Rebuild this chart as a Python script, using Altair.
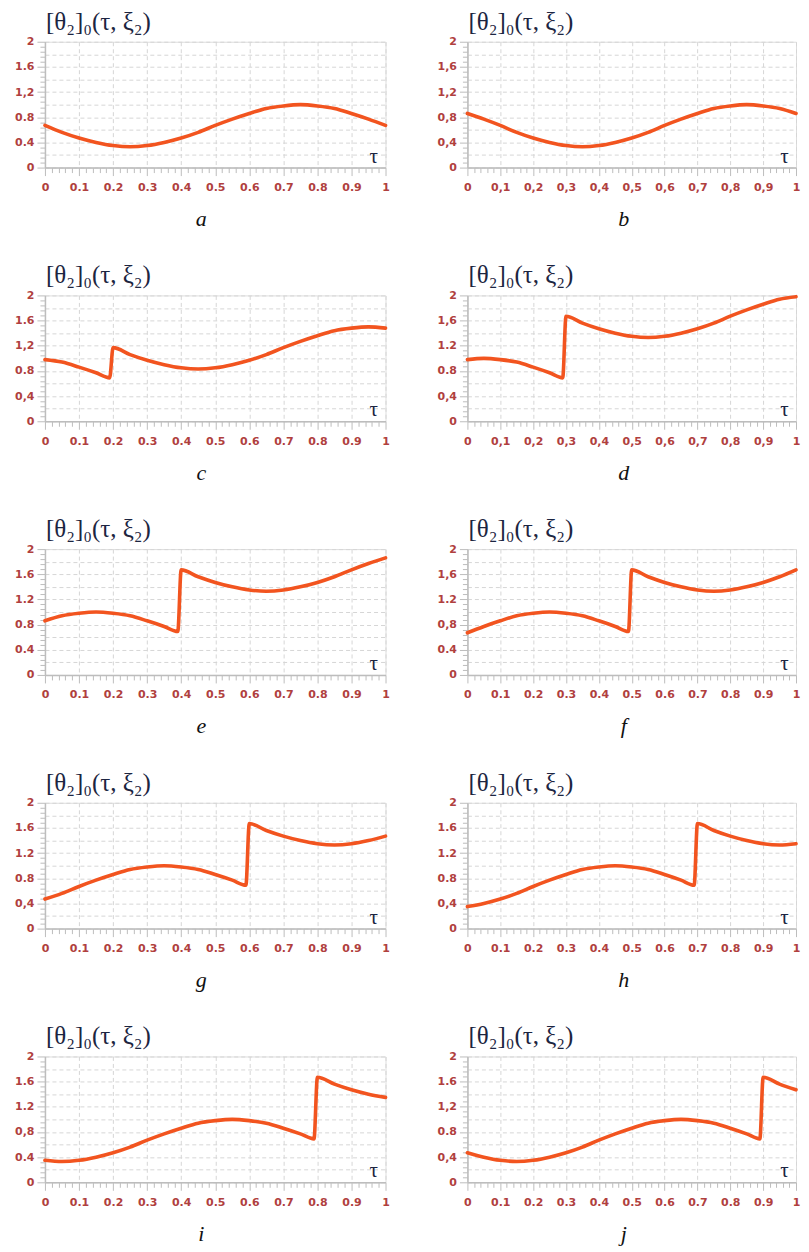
import altair as alt
import pandas as pd

# ---------------- data ----------------
PANEL_KEYS = ["a", "b", "c", "d", "e", "f", "g", "h", "i", "j"]

A_TAU = [0, 0.05, 0.1, 0.15, 0.2, 0.25, 0.3, 0.35, 0.4, 0.45, 0.5, 0.55, 0.6, 0.65, 0.7, 0.75, 0.8, 0.85, 0.9, 0.95, 1.0]
A_THETA = [0.67, 0.56, 0.47, 0.40, 0.35, 0.33, 0.35, 0.40, 0.47, 0.56, 0.67, 0.77, 0.86, 0.94, 0.98, 1.00, 0.98, 0.94, 0.86, 0.77, 0.67]

B_TAU = [0, 0.05, 0.1, 0.15, 0.2, 0.25, 0.3, 0.35, 0.4, 0.45, 0.5, 0.55, 0.6, 0.65, 0.7, 0.75, 0.8, 0.85, 0.9, 0.95, 1.0]
B_THETA = [0.86, 0.77, 0.67, 0.56, 0.47, 0.40, 0.35, 0.33, 0.35, 0.40, 0.47, 0.56, 0.67, 0.77, 0.86, 0.94, 0.98, 1.00, 0.98, 0.94, 0.86]

C_TAU = [0, 0.05, 0.1, 0.15, 0.19, 0.2, 0.25, 0.3, 0.35, 0.4, 0.45, 0.5, 0.55, 0.6, 0.65, 0.7, 0.75, 0.8, 0.85, 0.9, 0.95, 1.0]
C_THETA = [0.98, 0.94, 0.86, 0.77, 0.69, 1.17, 1.06, 0.97, 0.90, 0.85, 0.83, 0.85, 0.90, 0.97, 1.06, 1.17, 1.27, 1.36, 1.44, 1.48, 1.50, 1.48]

D_TAU = [0, 0.05, 0.1, 0.15, 0.2, 0.25, 0.29, 0.3, 0.35, 0.4, 0.45, 0.5, 0.55, 0.6, 0.65, 0.7, 0.75, 0.8, 0.85, 0.9, 0.95, 1.0]
D_THETA = [0.98, 1.00, 0.98, 0.94, 0.86, 0.77, 0.69, 1.67, 1.56, 1.47, 1.40, 1.35, 1.33, 1.35, 1.40, 1.47, 1.56, 1.67, 1.77, 1.86, 1.94, 1.98]

E_TAU = [0, 0.05, 0.1, 0.15, 0.2, 0.25, 0.3, 0.35, 0.39, 0.4, 0.45, 0.5, 0.55, 0.6, 0.65, 0.7, 0.75, 0.8, 0.85, 0.9, 0.95, 1.0]
E_THETA = [0.86, 0.94, 0.98, 1.00, 0.98, 0.94, 0.86, 0.77, 0.69, 1.67, 1.56, 1.47, 1.40, 1.35, 1.33, 1.35, 1.40, 1.47, 1.56, 1.67, 1.77, 1.86]

F_TAU = [0, 0.05, 0.1, 0.15, 0.2, 0.25, 0.3, 0.35, 0.4, 0.45, 0.49, 0.5, 0.55, 0.6, 0.65, 0.7, 0.75, 0.8, 0.85, 0.9, 0.95, 1.0]
F_THETA = [0.67, 0.77, 0.86, 0.94, 0.98, 1.00, 0.98, 0.94, 0.86, 0.77, 0.69, 1.67, 1.56, 1.47, 1.40, 1.35, 1.33, 1.35, 1.40, 1.47, 1.56, 1.67]

G_TAU = [0, 0.05, 0.1, 0.15, 0.2, 0.25, 0.3, 0.35, 0.4, 0.45, 0.5, 0.55, 0.59, 0.6, 0.65, 0.7, 0.75, 0.8, 0.85, 0.9, 0.95, 1.0]
G_THETA = [0.47, 0.56, 0.67, 0.77, 0.86, 0.94, 0.98, 1.00, 0.98, 0.94, 0.86, 0.77, 0.69, 1.67, 1.56, 1.47, 1.40, 1.35, 1.33, 1.35, 1.40, 1.47]

H_TAU = [0, 0.05, 0.1, 0.15, 0.2, 0.25, 0.3, 0.35, 0.4, 0.45, 0.5, 0.55, 0.6, 0.65, 0.69, 0.7, 0.75, 0.8, 0.85, 0.9, 0.95, 1.0]
H_THETA = [0.35, 0.40, 0.47, 0.56, 0.67, 0.77, 0.86, 0.94, 0.98, 1.00, 0.98, 0.94, 0.86, 0.77, 0.69, 1.67, 1.56, 1.47, 1.40, 1.35, 1.33, 1.35]

I_TAU = [0, 0.05, 0.1, 0.15, 0.2, 0.25, 0.3, 0.35, 0.4, 0.45, 0.5, 0.55, 0.6, 0.65, 0.7, 0.75, 0.79, 0.8, 0.85, 0.9, 0.95, 1.0]
I_THETA = [0.35, 0.33, 0.35, 0.40, 0.47, 0.56, 0.67, 0.77, 0.86, 0.94, 0.98, 1.00, 0.98, 0.94, 0.86, 0.77, 0.69, 1.67, 1.56, 1.47, 1.40, 1.35]

J_TAU = [0, 0.05, 0.1, 0.15, 0.2, 0.25, 0.3, 0.35, 0.4, 0.45, 0.5, 0.55, 0.6, 0.65, 0.7, 0.75, 0.8, 0.85, 0.89, 0.9, 0.95, 1.0]
J_THETA = [0.47, 0.40, 0.35, 0.33, 0.35, 0.40, 0.47, 0.56, 0.67, 0.77, 0.86, 0.94, 0.98, 1.00, 0.98, 0.94, 0.86, 0.77, 0.69, 1.67, 1.56, 1.47]

SERIES = {
    "a": (A_TAU, A_THETA), "b": (B_TAU, B_THETA), "c": (C_TAU, C_THETA),
    "d": (D_TAU, D_THETA), "e": (E_TAU, E_THETA), "f": (F_TAU, F_THETA),
    "g": (G_TAU, G_THETA), "h": (H_TAU, H_THETA), "i": (I_TAU, I_THETA),
    "j": (J_TAU, J_THETA),
}

# tick labels (as printed, with their mixed decimal separators)
Y_LABELS = {
    "a": ["0", "0.4", "0.8", "1,2", "1.6", "2"],
    "b": ["0", "0,4", "0,8", "1,2", "1,6", "2"],
    "c": ["0", "0,4", "0.8", "1,2", "1.6", "2"],
    "d": ["0", "0,4", "0.8", "1.2", "1,6", "2"],
    "e": ["0", "0.4", "0.8", "1.2", "1.6", "2"],
    "f": ["0", "0.4", "0,8", "1.2", "1,6", "2"],
    "g": ["0", "0,4", "0.8", "1.2", "1.6", "2"],
    "h": ["0", "0,4", "0.8", "1.2", "1.6", "2"],
    "i": ["0", "0.4", "0,8", "1.2", "1.6", "2"],
    "j": ["0", "0,4", "0.8", "1,2", "1.6", "2"],
}
X_LABELS_DOT = ["0", "0.1", "0.2", "0.3", "0.4", "0.5", "0.6", "0.7", "0.8", "0.9", "1"]
X_LABELS_COMMA = ["0", "0,1", "0,2", "0,3", "0,4", "0,5", "0,6", "0,7", "0,8", "0,9", "1"]
X_LABEL_SET = {"b": X_LABELS_COMMA, "d": X_LABELS_COMMA}

TITLE_TEXT = "[θ₂]₀(τ, ξ₂)"
TAU_MARK = "τ"
TAU_POS = [0.965]
TAU_LEVEL = [0.08]

X_TICKS = [round(i * 0.02, 2) for i in range(51)]
Y_TICKS = [round(i * 0.04, 2) for i in range(51)]

# ---------------- styling ----------------
W_LEFT, W_RIGHT, H = 341, 329, 126
LINE_COLOR = "#f2541f"
LABEL_COLOR = "#b0403e"
TEXT_COLOR = "#1c2541"
GRID_COLOR = "#d6d6d6"
AXIS_COLOR = "#bdbdbd"


def js_array(items):
    return "[" + ",".join("'" + s + "'" for s in items) + "]"


def panel(key, width):
    taus, thetas = SERIES[key]
    df = pd.DataFrame({"tau": taus, "theta": thetas})
    xl = X_LABEL_SET.get(key, X_LABELS_DOT)
    x_axis = alt.Axis(
        values=X_TICKS,
        labelExpr="round(datum.value*100) % 10 == 0 ? " + js_array(xl) + "[round(datum.value*10)] : ''",
        labelOverlap=False, labelFlush=False,
        labelFont="DejaVu Sans", labelFontWeight="bold", labelFontSize=11,
        labelColor=LABEL_COLOR, labelPadding=6,
        grid=True, gridColor=GRID_COLOR, gridDash=[4, 3], gridWidth=1,
        gridOpacity={"condition": {"test": "round(datum.value*100) % 10 == 0", "value": 1}, "value": 0},
        tickColor=AXIS_COLOR, tickWidth=1,
        tickSize={"condition": {"test": "round(datum.value*100) % 10 == 0", "value": 8}, "value": 5},
        domainColor=AXIS_COLOR, domainWidth=1.5,
        title=key, titleFont="Liberation Serif", titleFontStyle="italic",
        titleFontWeight="normal", titleFontSize=22, titleColor="#111111",
        titleX=156, titleY=58, titleBaseline="alphabetic", titleAlign="center",
    )
    yl = Y_LABELS[key]
    y_axis = alt.Axis(
        values=Y_TICKS,
        labelExpr="round(datum.value*100) % 40 == 0 ? " + js_array(yl) + "[round(datum.value*100)/40] : ''",
        labelOverlap=False, labelFlush=False,
        labelFont="DejaVu Sans", labelFontWeight="bold", labelFontSize=11,
        labelColor=LABEL_COLOR, labelPadding=3,
        grid=True, gridColor=GRID_COLOR, gridDash=[4, 3], gridWidth=1,
        gridOpacity={"condition": {"test": "round(datum.value*100) % 20 == 0", "value": 1}, "value": 0},
        tickColor=AXIS_COLOR, tickWidth=1,
        tickOpacity={"condition": {"test": "round(datum.value*100) % 8 == 0", "value": 1}, "value": 0},
        tickSize={"condition": {"test": "round(datum.value*100) % 40 == 0", "value": 8}, "value": 5},
        domainColor=AXIS_COLOR, domainWidth=1.5,
        title=None,
    )
    xenc = alt.X("tau:Q", scale=alt.Scale(domain=[0, 1], nice=False, zero=False), axis=x_axis)
    yenc = alt.Y("theta:Q", scale=alt.Scale(domain=[0, 2], nice=False, zero=False), axis=y_axis)

    line = alt.Chart(df).mark_line(
        color=LINE_COLOR, strokeWidth=3.6, interpolate="monotone", strokeCap="round", strokeJoin="round"
    ).encode(x=xenc, y=yenc)

    tdf = pd.DataFrame({"tau": TAU_POS, "theta": TAU_LEVEL, "t": [TAU_MARK]})
    tlabel = alt.Chart(tdf).mark_text(
        font="Liberation Serif", fontSize=21, color=TEXT_COLOR, baseline="alphabetic", align="center"
    ).encode(x=xenc, y=yenc, text="t:N")

    return alt.layer(line, tlabel).properties(
        width=width, height=H,
        title=alt.TitleParams(
            text=TITLE_TEXT, anchor="start", frame="group", font="Liberation Serif",
            fontSize=25, fontWeight="normal", color=TEXT_COLOR, offset=1, dx=1,
        ),
    )


panels = [panel(k, W_LEFT if n % 2 == 0 else W_RIGHT) for n, k in enumerate(PANEL_KEYS)]

chart = alt.concat(
    *panels, columns=2, spacing={"row": 128, "column": 82}, bounds="flush"
).properties(
    padding={"left": 6, "top": 0, "right": 0, "bottom": 0}
).configure_view(stroke=None).configure(background="white")

chart.save("out.html", embed_options={"renderer": "svg", "actions": False})
